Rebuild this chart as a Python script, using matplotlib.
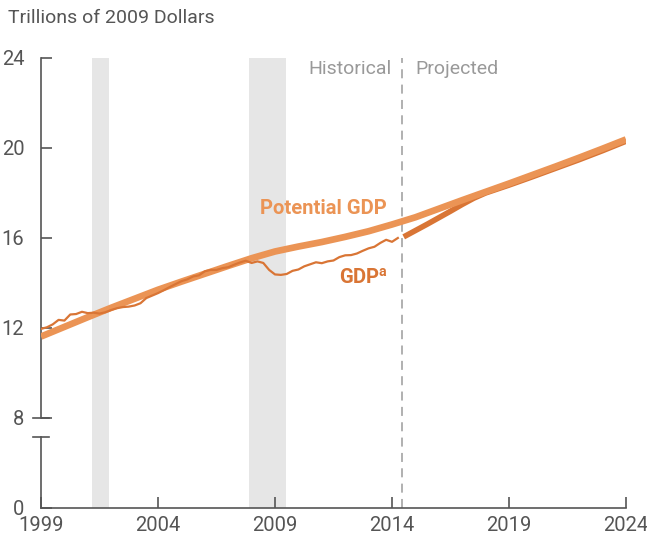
import matplotlib
matplotlib.use('Agg')
import matplotlib.pyplot as plt
from matplotlib.lines import Line2D

# ============================================
# DADOS
# ============================================

# PIB potencial (trilhoes de dolares de 2009), anual
anos_pot = [1999, 2000, 2001, 2002, 2003, 2004, 2005, 2006, 2007, 2008, 2009, 2010, 2011,
            2012, 2013, 2014, 2015, 2016, 2017, 2018, 2019, 2020, 2021, 2022, 2023, 2024]
pib_pot = [11.62, 12.05, 12.48, 12.90, 13.30, 13.70, 14.06, 14.41, 14.76, 15.10, 15.40, 15.62,
           15.82, 16.05, 16.30, 16.60, 16.92, 17.30, 17.68, 18.05, 18.42, 18.80, 19.18, 19.57,
           19.97, 20.38]

# PIB historico, trimestral (1999T1 a 2014T2)
pib_hist = [11.96, 12.03, 12.16, 12.36, 12.33, 12.60, 12.62, 12.72,
            12.66, 12.68, 12.64, 12.70, 12.80, 12.88, 12.93, 12.95,
            13.00, 13.10, 13.33, 13.44, 13.55, 13.68, 13.82, 13.95,
            14.08, 14.16, 14.29, 14.34, 14.52, 14.58, 14.58, 14.66,
            14.70, 14.81, 14.91, 14.99, 14.89, 14.96, 14.89, 14.58,
            14.38, 14.36, 14.40, 14.54, 14.60, 14.74, 14.83, 14.92,
            14.88, 14.96, 15.00, 15.15, 15.23, 15.24, 15.31, 15.43,
            15.54, 15.61, 15.78, 15.92, 15.83, 16.00]
anos_hist = [1999 + i / 4 for i in range(len(pib_hist))]

# PIB projetado
anos_proj = [2014.5, 2015, 2015.5, 2016, 2016.5, 2017, 2017.5, 2018, 2019, 2020, 2021, 2022, 2023, 2024]
pib_proj = [16.05, 16.33, 16.61, 16.90, 17.19, 17.49, 17.77, 18.00, 18.35, 18.72, 19.10, 19.48, 19.88, 20.30]

recessoes = [(2001.17, 2001.9), (2007.9, 2009.45)]
inicio_proj = 2014.43

anos_ticks = [1999, 2004, 2009, 2014, 2019, 2024]
valores_y = [0, 8, 12, 16, 20, 24]

# eixo y quebrado: abaixo de 8 tudo comprimido (0 fica em 4)
def ajusta_y(v):
    return v if v >= 8 else 4 + v / 2

# ============================================
# GRAFICO
# ============================================

plt.rcParams['font.family'] = ['Roboto', 'DejaVu Sans']

cor_pot = '#EB9455'
cor_pib = '#D97535'
cinza = '#555555'

fig = plt.figure(figsize=(6.47, 5.44), dpi=100)
ax = fig.add_axes([0.0634, 0.0662, 0.9041, 0.8272])
ax.set_xlim(1999, 2024)
ax.set_ylim(4, 24)

for a, b in recessoes:
    ax.axvspan(a, b, color='#E6E6E6', lw=0, zorder=0)

ax.axvline(inicio_proj, color='#AAAAAA', lw=1.3, ls=(0, (5, 3.5)), zorder=1)

ax.plot(anos_proj, pib_proj, color=cor_pib, lw=4.0, solid_capstyle='butt', zorder=2)
ax.plot(anos_pot, pib_pot, color=cor_pot, lw=4.8, solid_capstyle='butt', zorder=3)
ax.plot(anos_hist, pib_hist, color=cor_pib, lw=1.6, zorder=4)

ax.text(2011.05, 17.3, 'Potential GDP', color=cor_pot, fontsize=14.5, fontweight='bold',
        ha='center', va='center')
ax.text(2013.85, 14.25, 'GDP$^{\\mathregular{a}}$', color=cor_pib, fontsize=14.5,
        fontweight='bold', ha='right', va='center')

ax.text(2014.0, 23.5, 'Historical', color='#999999', fontsize=14, ha='right', va='center')
ax.text(2015.0, 23.5, 'Projected', color='#999999', fontsize=14, ha='left', va='center')

fig.text(0.012, 0.967, 'Trillions of 2009 Dollars', color=cinza, fontsize=14,
         ha='left', va='center')

# eixos
for lado in ['top', 'right', 'left']:
    ax.spines[lado].set_visible(False)
ax.spines['bottom'].set_color(cinza)
ax.spines['bottom'].set_linewidth(1.2)

quebra = 8 - 19 / 22.5
ax.add_line(Line2D([1999, 1999], [4, quebra], color=cinza, lw=1.2, clip_on=False))
ax.add_line(Line2D([1999, 1999], [8, 24], color=cinza, lw=1.2, clip_on=False))
ax.add_line(Line2D([1998.66, 1999.34], [quebra, quebra], color=cinza, lw=1.2, clip_on=False))
ax.add_line(Line2D([1998.66, 1999.34], [8, 8], color=cinza, lw=1.2, clip_on=False))

ax.set_xticks(anos_ticks)
ax.set_xticklabels([str(a) for a in anos_ticks])
ax.set_yticks([ajusta_y(v) for v in valores_y])
ax.set_yticklabels([str(v) for v in valores_y])
ax.tick_params(axis='both', direction='in', length=8, width=1.2, color=cinza,
               labelcolor=cinza, labelsize=14.5)
ax.tick_params(axis='y', pad=12)
ax.tick_params(axis='x', pad=6)

plt.savefig('out.png', dpi=100)
